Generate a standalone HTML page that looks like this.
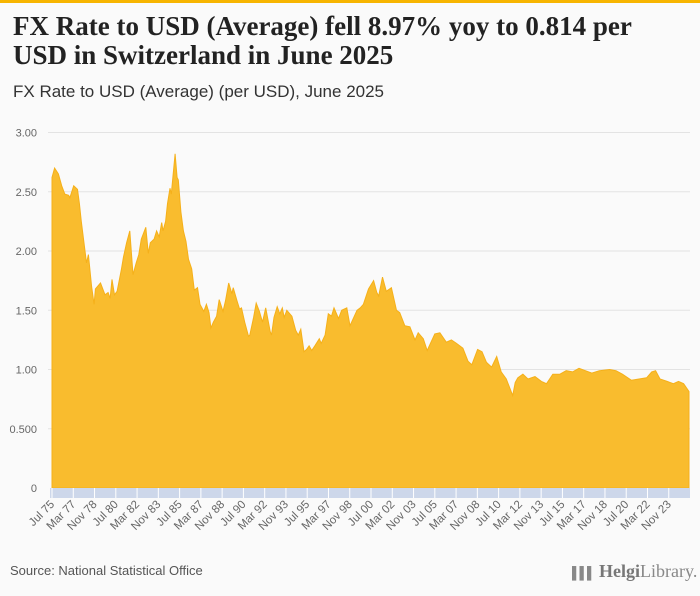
<!DOCTYPE html>
<html><head><meta charset="utf-8"><style>
body{margin:0;width:700px;height:596px;background:#fafafa;font-family:"Liberation Sans",sans-serif;overflow:hidden;position:relative}
#topbar{position:absolute;left:0;top:0;width:700px;height:3px;background:#f7b500}
#title{position:absolute;left:13px;top:12px;font-family:"Liberation Serif",serif;font-weight:bold;font-size:27px;line-height:29px;color:#222;width:640px}
#subtitle{position:absolute;left:13px;top:82px;font-size:17px;color:#333}
#source{position:absolute;left:10px;top:563px;font-size:13px;color:#555}
#logo{position:absolute;left:572px;top:561px;font-family:"Liberation Serif",serif;font-size:18px;color:#888;white-space:nowrap}
svg{position:absolute;left:0;top:0}
</style></head><body>
<div id="topbar"></div>
<div id="title">FX Rate to USD (Average) fell 8.97% yoy to 0.814 per USD in Switzerland in June 2025</div>
<div id="subtitle">FX Rate to USD (Average) (per USD), June 2025</div>
<svg id="chart" width="700" height="596"></svg>
<div id="source">Source: National Statistical Office</div>
<div id="logo"><span style="font-size:12px;letter-spacing:-1px">▌▌▌</span> <b style="color:#777">Helgi</b>Library.</div>
<script>
const times=[1975.5,1975.7,1976.0,1976.26,1976.5,1976.8,1976.9,1977.2,1977.5,1977.65,1977.8,1978.2,1978.35,1978.6,1978.8,1978.9,1979.3,1979.65,1979.9,1980.05,1980.2,1980.4,1980.6,1980.95,1981.1,1981.35,1981.6,1981.85,1982.1,1982.3,1982.5,1982.85,1983.05,1983.2,1983.5,1983.7,1983.9,1984.1,1984.2,1984.4,1984.55,1984.75,1984.85,1985.15,1985.3,1985.4,1985.6,1985.8,1986.0,1986.2,1986.45,1986.65,1986.9,1987.1,1987.4,1987.6,1987.8,1987.95,1988.15,1988.4,1988.6,1988.9,1989.1,1989.35,1989.6,1989.7,1990.0,1990.2,1990.35,1990.6,1990.9,1991.0,1991.3,1991.5,1991.75,1992.0,1992.25,1992.6,1992.7,1992.9,1993.15,1993.35,1993.55,1993.7,1993.9,1994.3,1994.6,1994.8,1995.0,1995.25,1995.45,1995.65,1995.85,1996.1,1996.45,1996.6,1996.9,1997.15,1997.4,1997.6,1997.95,1998.2,1998.6,1998.85,1999.4,1999.65,1999.9,2000.3,2000.7,2000.95,2001.1,2001.4,2001.7,2002.1,2002.5,2002.75,2003.15,2003.55,2003.95,2004.2,2004.6,2004.9,2005.5,2005.9,2006.4,2006.8,2007.2,2007.7,2008.1,2008.4,2008.85,2009.2,2009.55,2009.95,2010.35,2010.7,2011.1,2011.6,2011.8,2012.0,2012.4,2012.8,2013.35,2013.85,2014.25,2014.75,2015.3,2015.8,2016.3,2016.8,2017.3,2017.8,2018.4,2019.2,2019.7,2020.2,2020.9,2021.5,2022.1,2022.5,2022.8,2023.15,2023.7,2024.2,2024.6,2025.0,2025.42];
const values=[2.62,2.70,2.65,2.55,2.48,2.47,2.45,2.55,2.52,2.40,2.25,1.90,1.97,1.70,1.55,1.68,1.73,1.63,1.65,1.60,1.76,1.63,1.66,1.85,1.95,2.07,2.17,1.80,1.90,1.97,2.10,2.20,1.98,2.07,2.10,2.17,2.12,2.24,2.17,2.25,2.40,2.53,2.48,2.82,2.62,2.60,2.33,2.17,2.08,1.93,1.85,1.67,1.69,1.55,1.49,1.55,1.48,1.35,1.40,1.45,1.59,1.49,1.58,1.73,1.64,1.69,1.58,1.51,1.52,1.40,1.28,1.29,1.44,1.56,1.49,1.40,1.52,1.32,1.29,1.44,1.53,1.47,1.52,1.44,1.50,1.45,1.33,1.29,1.34,1.15,1.17,1.20,1.16,1.20,1.26,1.22,1.29,1.47,1.45,1.52,1.43,1.50,1.52,1.37,1.50,1.52,1.55,1.68,1.75,1.65,1.62,1.78,1.66,1.69,1.50,1.48,1.37,1.36,1.25,1.31,1.26,1.16,1.30,1.31,1.23,1.25,1.22,1.18,1.07,1.04,1.17,1.15,1.06,1.02,1.11,0.98,0.92,0.78,0.89,0.93,0.96,0.92,0.94,0.90,0.88,0.96,0.96,0.99,0.98,1.01,0.99,0.97,0.99,1.00,0.99,0.96,0.91,0.92,0.93,0.98,0.99,0.92,0.90,0.88,0.90,0.88,0.814];
const yTicks=[0,0.5,1,1.5,2,2.5,3];
const yTickLabels=["0","0.500","1.00","1.50","2.00","2.50","3.00"];
const monthNames=["Jan","Feb","Mar","Apr","May","Jun","Jul","Aug","Sep","Oct","Nov","Dec"];
const L=52,R=689,T0=1975.5,T1=2025.42,Y0=488,Y3=132.5;
function xOf(t){return L+(t-T0)*(R-L)/(T1-T0);}
function yOf(v){return Y0-v*(Y0-Y3)/3;}
const svg=document.getElementById('chart');const NS='http://www.w3.org/2000/svg';
function mk(tag,a){const e=document.createElementNS(NS,tag);for(const k in a)e.setAttribute(k,a[k]);svg.appendChild(e);return e;}
yTicks.forEach((v,i)=>{
 if(v>0){const g=mk('line',{x1:48,x2:690,y1:yOf(v),y2:yOf(v),stroke:'#e3e3e3','stroke-width':1});
 
 }
 const t=mk('text',{x:37,y:yOf(v)+4,'text-anchor':'end','font-size':11,fill:'#666'});t.textContent=yTickLabels[i];
 
 
});
let d='M'+xOf(times[0])+','+Y0;
times.forEach((t,i)=>{d+=' L'+xOf(t).toFixed(1)+','+yOf(values[i]).toFixed(1);});
d+=' L'+xOf(times[times.length-1])+','+Y0+' Z';
const area=mk('path',{d:d,fill:'#f9bc2e',stroke:'#f5b01a','stroke-width':1});


const band=mk('rect',{x:50,y:488,width:640,height:10,fill:'#cdd7ea'});


for(let m=0;m<600;m+=20){
 const t=T0+m/12;const x=xOf(t);
 const tk=mk('line',{x1:x,x2:x,y1:488,y2:498,stroke:'#fff','stroke-width':1});
 
 
 const mi=(6+m)%12,yr=1975+Math.floor((6+m)/12);
 const lb=mk('text',{x:x+3,y:505,'text-anchor':'end','font-size':11.5,fill:'#666',transform:'rotate(-45 '+(x+3)+' 505)'});
 lb.textContent=monthNames[mi]+' '+String(yr%100).padStart(2,'0');
 
 
}
</script>
</body></html>
